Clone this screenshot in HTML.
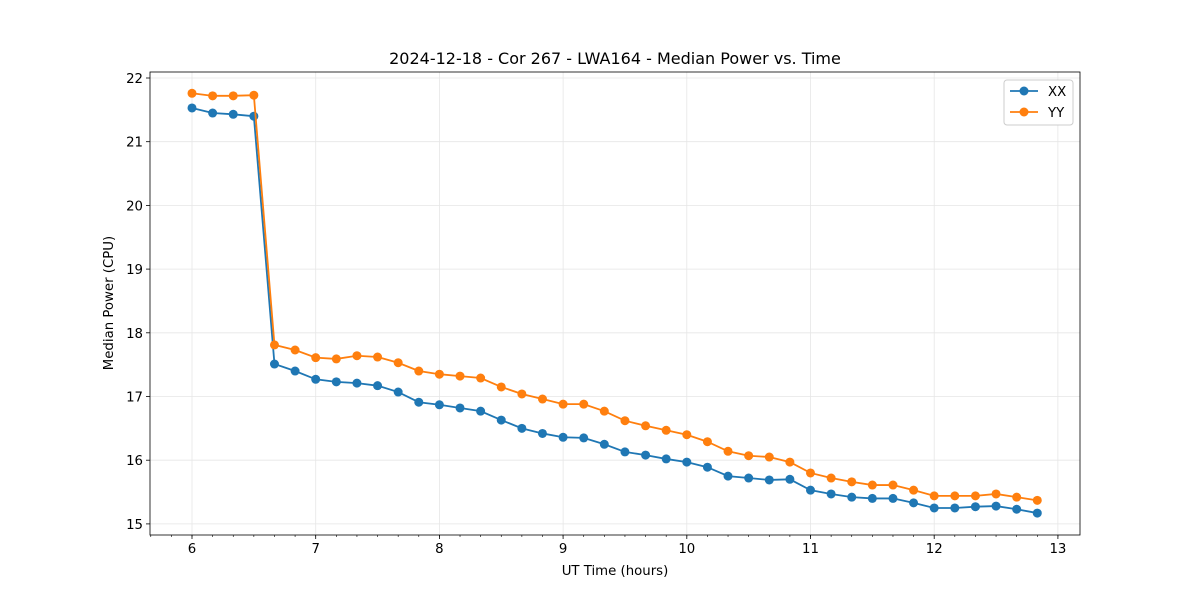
<!DOCTYPE html>
<html><head><meta charset="utf-8"><style>body{margin:0;background:#fff}svg{display:block;font-family:"DejaVu Sans","Liberation Sans",sans-serif}</style></head>
<body>
<svg id="chart" width="1200" height="600"></svg>
<script>
const times=[6,6.1667,6.3333,6.5,6.6667,6.8333,7,7.1667,7.3333,7.5,7.6667,7.8333,8,8.1667,8.3333,8.5,8.6667,8.8333,9,9.1667,9.3333,9.5,9.6667,9.8333,10,10.1667,10.3333,10.5,10.6667,10.8333,11,11.1667,11.3333,11.5,11.6667,11.8333,12,12.1667,12.3333,12.5,12.6667,12.8333];
const xxValues=[21.53,21.45,21.43,21.40,17.51,17.40,17.27,17.23,17.21,17.17,17.07,16.91,16.87,16.82,16.77,16.63,16.50,16.42,16.36,16.35,16.25,16.13,16.08,16.02,15.97,15.89,15.75,15.72,15.69,15.70,15.53,15.47,15.42,15.40,15.40,15.33,15.25,15.25,15.27,15.28,15.23,15.17];
const yyValues=[21.76,21.72,21.72,21.73,17.81,17.73,17.61,17.59,17.64,17.62,17.53,17.40,17.35,17.32,17.29,17.15,17.04,16.96,16.88,16.88,16.77,16.62,16.54,16.47,16.40,16.29,16.14,16.07,16.05,15.97,15.80,15.72,15.66,15.61,15.61,15.53,15.44,15.44,15.44,15.47,15.42,15.37];
const xTicks=[6,7,8,9,10,11,12,13];
const yTicks=[15,16,17,18,19,20,21,22];
const NS='http://www.w3.org/2000/svg';
const svg=document.getElementById('chart');
const L=150,R=1080,T=72,B=535;
const xs=v=>192+(v-6)*123.7;
const ys=v=>78+(22-v)*63.7;
function mk(tag,attrs,parent){const e=document.createElementNS(NS,tag);for(const k in attrs)e.setAttribute(k,attrs[k]);(parent||svg).appendChild(e);return e;}
xTicks.forEach(t=>{const l=mk('line',{x1:xs(t),x2:xs(t),y1:T,y2:B,stroke:'#e6e6e6','stroke-width':0.8});

});
yTicks.forEach(t=>{const l=mk('line',{x1:L,x2:R,y1:ys(t),y2:ys(t),stroke:'#e6e6e6','stroke-width':0.8});

});
for(let m=5.6667;m<=13.1;m+=1/6){const px=xs(m);if(px<L||px>R)continue;const l=mk('line',{x1:px,x2:px,y1:B,y2:B+2,stroke:'#000','stroke-width':0.6});

}
xTicks.forEach(t=>{mk('line',{x1:xs(t),x2:xs(t),y1:B,y2:B+4,stroke:'#000','stroke-width':0.8});
const tx=mk('text',{x:xs(t),y:B+18,'text-anchor':'middle','font-size':13.3});tx.textContent=t;

});
yTicks.forEach(t=>{mk('line',{x1:L-4,x2:L,y1:ys(t),y2:ys(t),stroke:'#000','stroke-width':0.8});
const tx=mk('text',{x:L-7,y:ys(t)+5,'text-anchor':'end','font-size':13.3});tx.textContent=t;

});
function series(vals,color,name){
const pts=vals.map((v,i)=>xs(times[i])+','+ys(v)).join(' ');
const pl=mk('polyline',{points:pts,fill:'none',stroke:color,'stroke-width':1.8});


vals.forEach((v,i)=>{const c=mk('circle',{cx:xs(times[i]),cy:ys(v),r:4.5,fill:color});

});}
series(xxValues,'#1f77b4','xx');
series(yyValues,'#ff7f0e','yy');
const fr=mk('rect',{x:L,y:T,width:R-L,height:B-T,fill:'none',stroke:'#000','stroke-width':0.8});


const title=mk('text',{x:615,y:64,'text-anchor':'middle','font-size':16});title.textContent='2024-12-18 - Cor 267 - LWA164 - Median Power vs. Time';


const xl=mk('text',{x:615,y:575,'text-anchor':'middle','font-size':13.3});xl.textContent='UT Time (hours)';


const yl=mk('text',{x:113,y:303,'text-anchor':'middle','font-size':13.3,transform:'rotate(-90 113 303)'});yl.textContent='Median Power (CPU)';


const lg=mk('g',{});


mk('rect',{x:1004,y:80,width:69,height:45,rx:3,fill:'#fff',stroke:'#ccc','stroke-width':1},lg);
[['XX','#1f77b4'],['YY','#ff7f0e']].forEach((d,i)=>{const y=91+i*21;
const g=mk('g',{},lg);


mk('line',{x1:1010,x2:1038,y1:y,y2:y,stroke:d[1],'stroke-width':1.8},g);
mk('circle',{cx:1024,cy:y,r:4.5,fill:d[1]},g);
const t=mk('text',{x:1048,y:y+5,'font-size':13.3},g);t.textContent=d[0];});
</script>
</body></html>
